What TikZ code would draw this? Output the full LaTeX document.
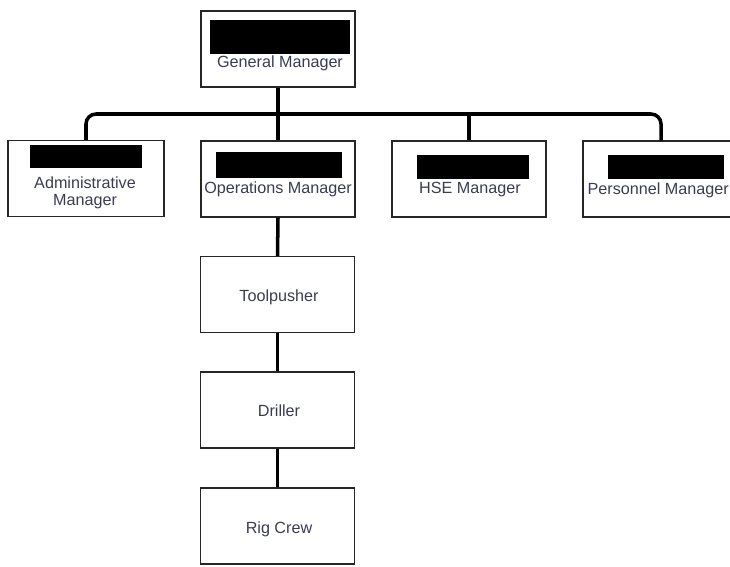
\documentclass[tikz,border=0pt]{standalone}
\usepackage{fontspec}
\setmainfont{Liberation Sans}
\definecolor{inktext}{RGB}{58,60,82}
\begin{document}
\begin{tikzpicture}[x=0.3mm, y=-0.3mm,
    post/.style={draw=black!85, line width=1.1pt, minimum width=46.2mm, minimum height=22.8mm, inner sep=0pt},
    lbl/.style={text=inktext, font=\fontsize{13.8}{14}\selectfont, align=center, inner sep=0pt},
    link/.style={black, line width=3pt}]
    \useasboundingbox (0, 0) rectangle (730, 566);

    % boxes
    \node[post] (gm) at (278, 49) {};
    \node[post, minimum width=46.8mm] (admin) at (86, 178.5) {};
    \node[post] (ops) at (278, 179) {};
    \node[post] (hse) at (469, 179) {};
    \node[post, minimum width=46.8mm] (pers) at (661, 179) {};
        \node[post] (tool) at (277.5, 294.5) {};
        \node[post] (drill) at (277.5, 410) {};
        \node[post] (rig) at (277.5, 526) {};

    % blacked out names
    \fill (210, 20) rectangle (350, 54);
    \fill (30, 145) rectangle (142, 168);
    \fill (216, 152) rectangle (342, 178);
    \fill (417, 155) rectangle (529, 179);
    \fill (608, 155) rectangle (724, 179);

    % lines
    \coordinate (bus) at (278, 114);
    \draw[link] (gm.south) -- (ops.north);
    \draw[link, rounded corners=3mm] (admin.north) |- (bus) -| (pers.north);
    \draw[link] (hse.north) -- (hse.north |- bus);
    \draw[link] (ops.south) -- (tool.north);
    \draw[link] (tool.south) -- (drill.north);
    \draw[link] (drill.south) -- (rig.north);

    \node[lbl] (gmlbl) at (280, 63) {General Manager};
    \node[lbl] (adminlbl) at (85, 193) {Administrative\\Manager};
    \node[lbl] (opslbl) at (278, 189) {Operations Manager};
    \node[lbl] (hselbl) at (470, 190) {HSE Manager};
    \node[lbl, anchor=east] (perslbl) at (729, 190) {Personnel Manager};
    \node[lbl] (toollbl) at (279, 297) {Toolpusher};
    \node[lbl] (drilllbl) at (279, 411) {Driller};
    \node[lbl] (riglbl) at (279, 529) {Rig Crew};
\end{tikzpicture}
\end{document}
